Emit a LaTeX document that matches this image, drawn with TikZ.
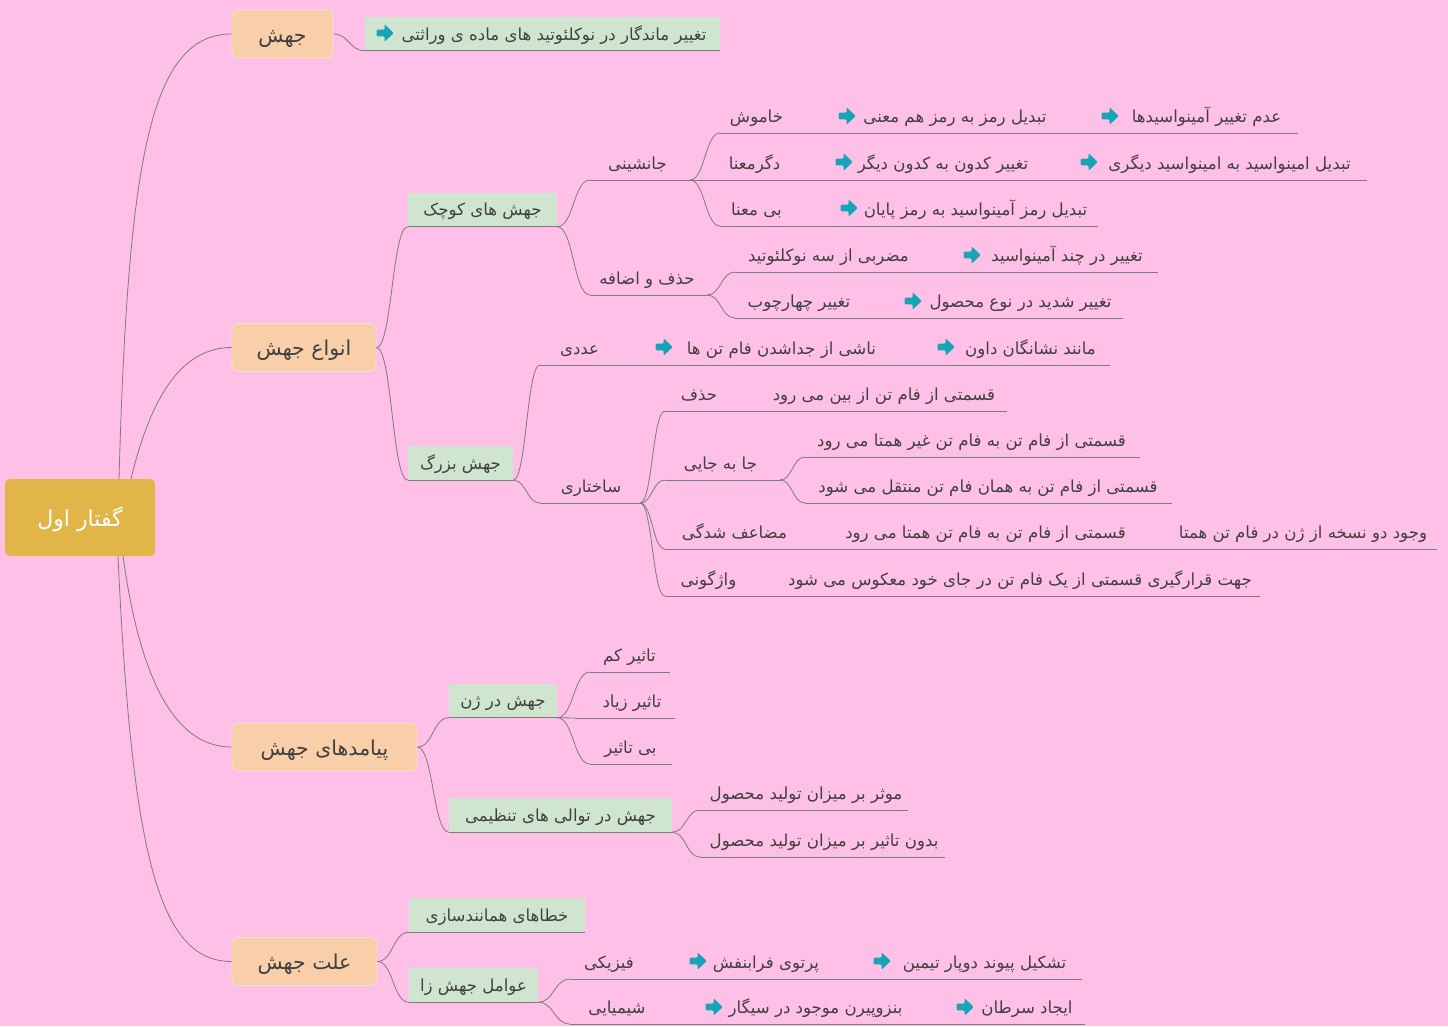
\documentclass[tikz,border=0pt]{standalone}
\usepackage{fontspec}
\TeXXeTstate=1
\newfontfamily\fa[Script=Arabic]{DejaVu Sans}
\usetikzlibrary{calc}
\definecolor{bg}{HTML}{FFC0E8}
\definecolor{rootc}{HTML}{E1B547}
\definecolor{peach}{HTML}{F8CFA8}
\definecolor{peachb}{HTML}{F3E2DA}
\definecolor{greenb}{HTML}{D0E5D0}
\definecolor{linec}{HTML}{7C7C7C}
\definecolor{txt}{HTML}{404040}
\definecolor{arrc}{HTML}{17A4B6}
\newcommand\RT[1]{\beginR #1\endR}
\newcommand\PPC{path picture bounding box.center}
\tikzset{
  ln/.style={draw=linec, line width=0.8pt},
  lab/.style={font=\fa\fontsize{16.6}{19}\selectfont, text=txt, inner sep=0pt, anchor=base},
  arr/.style={minimum width=19pt, minimum height=20pt, inner sep=0pt, anchor=center,
    path picture={\fill[arrc, rounded corners=1.2pt]
      ($(\PPC)+(-8.5pt,3.3pt)$) -- ($(\PPC)+(-0.5pt,3.3pt)$) -- ($(\PPC)+(-0.5pt,8.8pt)$) --
      ($(\PPC)+(8.8pt,0pt)$) -- ($(\PPC)+(-0.5pt,-8.8pt)$) -- ($(\PPC)+(-0.5pt,-3.3pt)$) --
      ($(\PPC)+(-8.5pt,-3.3pt)$) -- cycle;}},
  rootbox/.style={fill=rootc, rounded corners=5pt, text=white, font=\fa\fontsize{22}{26}\selectfont, minimum width=150pt, minimum height=77pt, inner sep=0pt, text height=18pt, text depth=0pt},
  l1box/.style={fill=peach, draw=peachb, line width=0.8pt, rounded corners=5pt, text=txt, font=\fa\fontsize{20.5}{24}\selectfont, minimum height=48pt, inner sep=0pt, text height=16pt, text depth=0pt},
  gbox/.style={fill=greenb, text=txt, font=\fa\fontsize{16.6}{19}\selectfont, minimum height=34pt, inner sep=0pt, text height=12pt, text depth=0pt},
}
\newcommand\conn[2]{\draw[ln] let \p1=(#1), \p2=(#2) in (#1) .. controls ({0.5*\x1+0.5*\x2},\y1) and ({0.5*\x1+0.5*\x2},\y2) .. (#2);}
\begin{document}
\begin{tikzpicture}[x=1pt,y=-1pt]
\fill[bg] (0,0) rectangle (1448,1026);
\useasboundingbox (0,0) rectangle (1448,1026);

% root and level 1
\node[rootbox] (root) at (80,517.5) {\RT{گفتار اول}};
\node[l1box, minimum width=101pt] (jahesh) at (282.5,34) {\RT{جهش}};
\node[l1box, minimum width=144pt] (anva) at (304,347.5) {\RT{انواع جهش}};
\node[l1box, minimum width=185pt] (payamad) at (324.5,747) {\RT{پیامدهای جهش}};
\node[l1box, minimum width=145pt] (ellat) at (304.5,961.5) {\RT{علت جهش}};

\coordinate (rA) at (119,479);
\coordinate (rB) at (131,479);
\coordinate (rC) at (123,556);
\coordinate (rD) at (118,556);
\draw[ln] (rA) .. controls (128,160) and (150,34) .. (jahesh.west);
\draw[ln] (rB) .. controls (150,400) and (180,347.5) .. (anva.west);
\draw[ln] (rC) .. controls (140,680) and (175,747) .. (payamad.west);
\draw[ln] (rD) .. controls (132,860) and (160,961.5) .. (ellat.west);

% green boxes
\node[gbox, minimum width=355pt] (g0) at (542.5,33.5) {};
\node[arr] (g0a) at (385,33) {};
\node[lab] (g0t) at (554,40) {\RT{تغییر ماندگار در نوکلئوتید های ماده ی وراثتی}};
\node[gbox, minimum width=149pt] (kuchak) at (482.5,209.5) {\RT{جهش های کوچک}};
\node[gbox, minimum width=105pt] (bozorg) at (460.5,463) {\RT{جهش بزرگ}};
\node[gbox, minimum width=108pt] (dargen) at (503,700.5) {\RT{جهش در ژن}};
\node[gbox, minimum width=223pt] (tavali) at (560.5,815) {\RT{جهش در توالی های تنظیمی}};
\node[gbox, minimum width=176pt] (khata) at (497,915) {\RT{خطاهای همانندسازی}};
\node[gbox, minimum width=129pt] (avamel) at (473.5,985) {\RT{عوامل جهش زا}};
\foreach \g in {g0,kuchak,bozorg,dargen,tavali,khata,avamel}
  \draw[ln] (\g.south west) -- (\g.south east);

\conn{jahesh.east}{g0.south west}
\conn{anva.east}{kuchak.south west}
\conn{anva.east}{bozorg.south west}
\conn{payamad.east}{dargen.south west}
\conn{payamad.east}{tavali.south west}
\conn{ellat.east}{khata.south west}
\conn{ellat.east}{avamel.south west}

% row underline coordinates
\coordinate (janS) at (590,180);   \coordinate (janE) at (690,180);
\coordinate (hazfS) at (590,295);  \coordinate (hazfE) at (707,295);
\coordinate (khamS) at (720,133);  \coordinate (khamE) at (1298,133);
\coordinate (degS) at (720,180);   \coordinate (degE) at (1367,180);
\coordinate (bimaS) at (720,226);  \coordinate (bimaE) at (1098,226);
\coordinate (mozS) at (735,272);   \coordinate (mozE) at (1158,272);
\coordinate (charS) at (735,318);  \coordinate (charE) at (1123,318);
\coordinate (adadS) at (540,365);  \coordinate (adadE) at (1110,365);
\coordinate (sakhS) at (540,503);  \coordinate (sakhE) at (640,503);
\coordinate (hzS) at (665,411);    \coordinate (hzE) at (1007,411);
\coordinate (jabS) at (665,480);   \coordinate (jabE) at (780,480);
\coordinate (mzaS) at (665,549);   \coordinate (mzaE) at (1437,549);
\coordinate (vajS) at (665,596);   \coordinate (vajE) at (1260,596);
\coordinate (jaaS) at (805,457);   \coordinate (jaaE) at (1140,457);
\coordinate (jbbS) at (805,503);   \coordinate (jbbE) at (1172,503);
\coordinate (tkS) at (590,672);    \coordinate (tkE) at (670,672);
\coordinate (tzS) at (575,718);    \coordinate (tzE) at (675,718);
\coordinate (btS) at (590,764);    \coordinate (btE) at (672,764);
\coordinate (moS) at (700,810);    \coordinate (moE) at (908,810);
\coordinate (bdS) at (700,857);    \coordinate (bdE) at (945,857);
\coordinate (fzS) at (570,979);    \coordinate (fzE) at (1082,979);
\coordinate (shS) at (570,1024);   \coordinate (shE) at (1085,1024);

\foreach \r in {jan,hazf,kham,deg,bima,moz,char,adad,sakh,hz,jab,mza,vaj,jaa,jbb,tk,tz,bt,mo,bd,fz,sh}
  \draw[ln] (\r S) -- (\r E);

\conn{kuchak.south east}{janS}
\conn{kuchak.south east}{hazfS}
\conn{janE}{khamS}
\draw[ln] (janE) -- (degS);
\conn{janE}{bimaS}
\conn{hazfE}{mozS}
\conn{hazfE}{charS}
\conn{bozorg.south east}{adadS}
\conn{bozorg.south east}{sakhS}
\conn{sakhE}{hzS}
\conn{sakhE}{jabS}
\conn{sakhE}{mzaS}
\conn{sakhE}{vajS}
\conn{jabE}{jaaS}
\conn{jabE}{jbbS}
\conn{dargen.south east}{tkS}
\draw[ln] (dargen.south east) -- (tzS);
\conn{dargen.south east}{btS}
\conn{tavali.south east}{moS}
\conn{tavali.south east}{bdS}
\conn{avamel.south east}{fzS}
\conn{avamel.south east}{shS}

% labels
\node[lab] (jan) at (637.5,169) {\RT{جانشینی}};
\node[lab] (hazf) at (647,284) {\RT{حذف و اضافه}};
\node[lab] (kham) at (756.5,122) {\RT{خاموش}};
\node[arr] (khamA1) at (847,116) {};
\node[lab] (kham2) at (955,122) {\RT{تبدیل رمز به رمز هم معنی}};
\node[arr] (khamA2) at (1110,116) {};
\node[lab] (kham3) at (1206.5,122) {\RT{عدم تغییر آمینواسیدها}};
\node[lab] (deg) at (754.5,169) {\RT{دگرمعنا}};
\node[arr] (degA1) at (844,162) {};
\node[lab] (deg2) at (943,169) {\RT{تغییر کدون به کدون دیگر}};
\node[arr] (degA2) at (1089,162) {};
\node[lab] (deg3) at (1229.5,169) {\RT{تبدیل امینواسید به امینواسید دیگری}};
\node[lab] (bima) at (756.5,215) {\RT{بی معنا}};
\node[arr] (bimaA1) at (849,208) {};
\node[lab] (bima2) at (975.5,215) {\RT{تبدیل رمز آمینواسید به رمز پایان}};
\node[lab] (moz) at (828.5,261) {\RT{مضربی از سه نوکلئوتید}};
\node[arr] (mozA1) at (972,255) {};
\node[lab] (moz2) at (1067,261) {\RT{تغییر در چند آمینواسید}};
\node[lab] (char) at (799,307) {\RT{تغییر چهارچوب}};
\node[arr] (charA1) at (913,301) {};
\node[lab] (char2) at (1020.5,307) {\RT{تغییر شدید در نوع محصول}};
\node[lab] (adad) at (579.5,354) {\RT{عددی}};
\node[arr] (adadA1) at (664,347) {};
\node[lab] (adad2) at (781.5,354) {\RT{ناشی از جداشدن فام تن ها}};
\node[arr] (adadA2) at (946,347) {};
\node[lab] (adad3) at (1030.5,354) {\RT{مانند نشانگان داون}};
\node[lab] (sakh) at (591,492) {\RT{ساختاری}};
\node[lab] (hz) at (699,400) {\RT{حذف}};
\node[lab] (hz2) at (884,400) {\RT{قسمتی از فام تن از بین می رود}};
\node[lab] (jab) at (720.5,469) {\RT{جا به جایی}};
\node[lab] (jaa) at (971.5,446) {\RT{قسمتی از فام تن به فام تن غیر همتا می رود}};
\node[lab] (jbb) at (988,492) {\RT{قسمتی از فام تن به همان فام تن منتقل می شود}};
\node[lab] (mza) at (734.5,538) {\RT{مضاعف شدگی}};
\node[lab] (mza2) at (985.5,538) {\RT{قسمتی از فام تن به فام تن همتا می رود}};
\node[lab] (mza3) at (1303,538) {\RT{وجود دو نسخه از ژن در فام تن همتا}};
\node[lab] (vaj) at (708.5,585) {\RT{واژگونی}};
\node[lab] (vaj2) at (1020,585) {\RT{جهت قرارگیری قسمتی از یک فام تن در جای خود معکوس می شود}};
\node[lab] (tk) at (629.5,661) {\RT{تاثیر کم}};
\node[lab] (tz) at (632,707) {\RT{تاثیر زیاد}};
\node[lab] (bt) at (630.5,753) {\RT{بی تاثیر}};
\node[lab] (mo) at (806,799) {\RT{موثر بر میزان تولید محصول}};
\node[lab] (bd) at (824,846) {\RT{بدون تاثیر بر میزان تولید محصول}};
\node[lab] (fz) at (609,968) {\RT{فیزیکی}};
\node[arr] (fzA1) at (698,961) {};
\node[lab] (fz2) at (766,968) {\RT{پرتوی فرابنفش}};
\node[arr] (fzA2) at (882,961) {};
\node[lab] (fz3) at (984.5,968) {\RT{تشکیل پیوند دوپار تیمین}};
\node[lab] (sh) at (617,1013) {\RT{شیمیایی}};
\node[arr] (shA1) at (714,1007) {};
\node[lab] (sh2) at (815.5,1013) {\RT{بنزوپیرن موجود در سیگار}};
\node[arr] (shA2) at (965,1007) {};
\node[lab] (sh3) at (1027,1013) {\RT{ایجاد سرطان}};
\end{tikzpicture}
\end{document}
